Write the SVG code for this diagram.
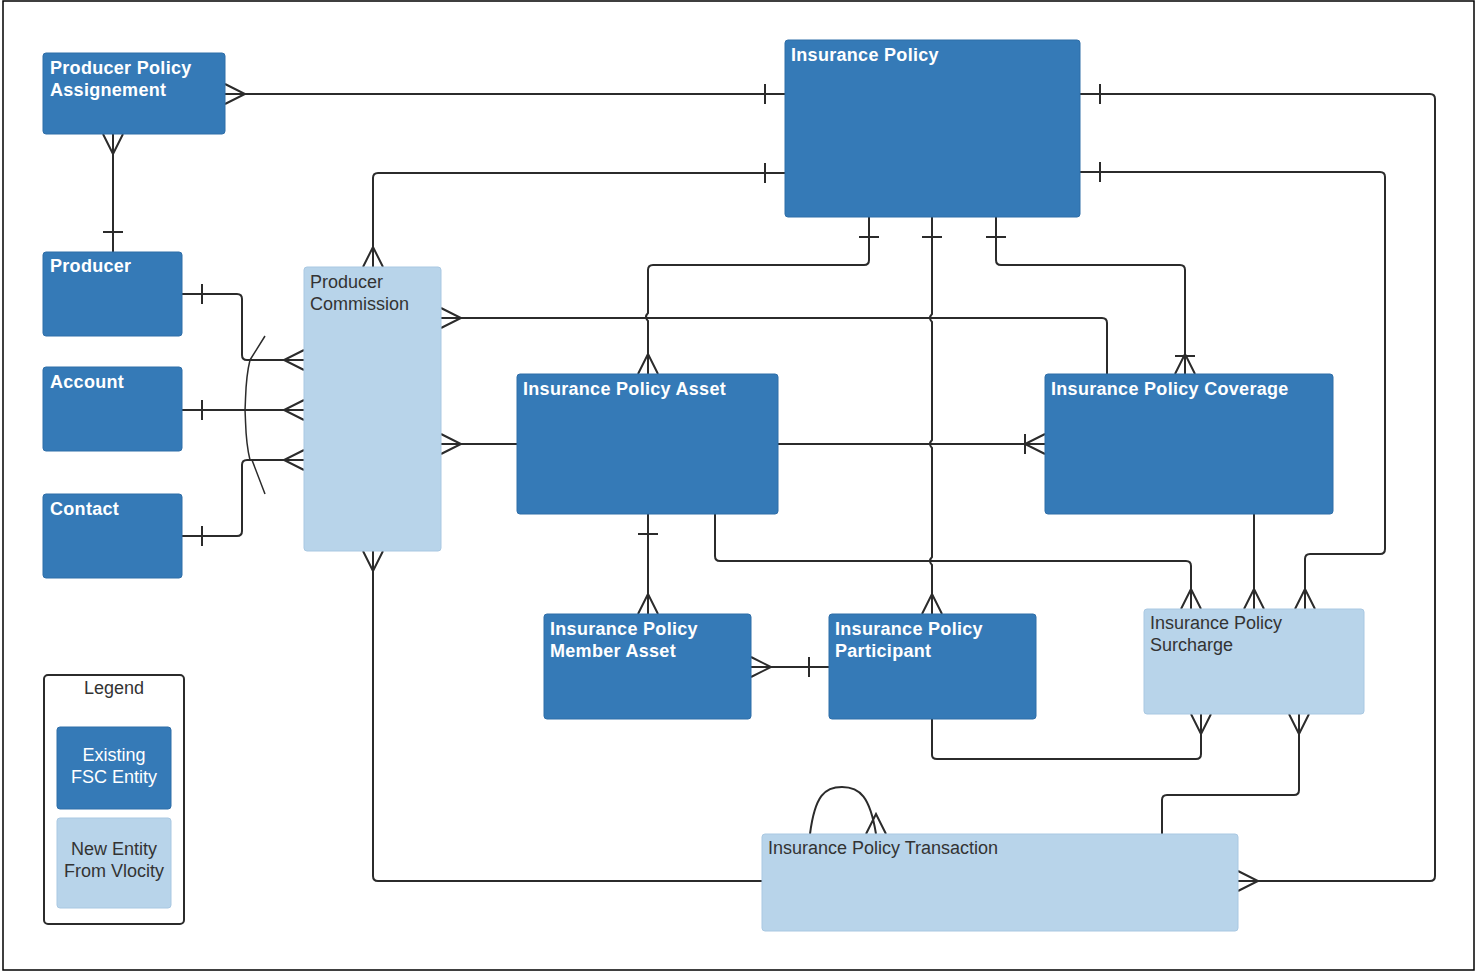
<svg xmlns="http://www.w3.org/2000/svg" width="1476" height="973" viewBox="0 0 1476 973">
<style>
.d{fill:#357ab7;stroke:#2f6ea8;stroke-width:1}
.l{fill:#b8d4ea;stroke:#a9c8e2;stroke-width:1}
.dt{font-family:"Liberation Sans",Arial,sans-serif;font-size:18px;font-weight:bold;fill:#fff;letter-spacing:0.3px}
.lt{font-family:"Liberation Sans",Arial,sans-serif;font-size:18px;fill:#333}
.c path{fill:none;stroke:#2b2b2b;stroke-width:2}
</style>
<rect x="3" y="1" width="1471" height="969" fill="#fff" stroke="#000" stroke-width="1.5"/>
<g class="c" id="connectors">
<path d="M225,94H785 M225,84L245,94L225,104 M765,84V104"/>
<path d="M113,134V252 M103,134L113,154L123,134 M103,232H123"/>
<path d="M785,173H378Q373,173 373,178V267 M765,163V183 M363,267L373,247L383,267"/>
<path d="M1080,94H1430Q1435,94 1435,99V876Q1435,881 1430,881H1238 M1100,84V104 M1238,871L1258,881L1238,891"/>
<path d="M1080,172H1380Q1385,172 1385,177V549Q1385,554 1380,554H1310Q1305,554 1305,559V609 M1100,162V182 M1295,609L1305,589L1315,609"/>
<path d="M869,217V260Q869,265 864,265H653Q648,265 648,270V313q-4,4 0,8V374 M859,237H879 M638,374L648,354L658,374"/>
<path d="M932,217V314q-4,4 0,8V440q-4,4 0,8V557q-4,4 0,8V614 M922,237H942 M922,614L932,594L942,614"/>
<path d="M996,217V260Q996,265 1001,265H1180Q1185,265 1185,270V374 M986,237H1006 M1175,374L1185,354L1195,374 M1175,356H1195"/>
<path d="M441,318H1102Q1107,318 1107,323V374 M441,308L461,318L441,328"/>
<path d="M441,444H517 M441,434L461,444L441,454"/>
<path d="M778,444H1045 M1045,434L1025,444L1045,454 M1025,434V454"/>
<path d="M648,514V614 M638,534H658 M638,614L648,594L658,614"/>
<path d="M715,514V556Q715,561 720,561H1186Q1191,561 1191,566V609 M1181,609L1191,589L1201,609"/>
<path d="M1254,514V609 M1244,609L1254,589L1264,609"/>
<path d="M751,667H829 M751,657L771,667L751,677 M809,657V677"/>
<path d="M932,719V755Q932,759 937,759H1196Q1201,759 1201,754V714 M1191,714L1201,734L1211,714"/>
<path d="M1299,714V790Q1299,795 1294,795H1167Q1162,795 1162,800V834 M1289,714L1299,734L1309,714"/>
<path d="M373,551V876Q373,881 378,881H762 M363,551L373,571L383,551"/>
<path d="M810,834C815,795 825,787 842,787C860,787 870,797 876,834 M866,834L876,814L886,834"/>
<path d="M182,294H237Q242,294 242,299V355Q242,360 247,360H304 M202,284V304 M304,350L284,360L304,370"/>
<path d="M182,410H304 M202,400V420 M304,400L284,410L304,420"/>
<path d="M182,536H237Q242,536 242,531V465Q242,460 247,460H304 M202,526V546 M304,450L284,460L304,470"/>
<path d="M265,336L250,360 M252,460L265,494" style="stroke-width:1.5"/>
<path d="M250,360C245,380 246,395 245,410C246,425 245,440 250,460" style="stroke-width:1.5"/>
</g>
<g id="ppa"><rect class="d" x="43" y="53" width="182" height="81" rx="3"/><text class="dt" x="50" y="74">Producer Policy</text><text class="dt" x="50" y="96">Assignement</text></g>
<g id="ip"><rect class="d" x="785" y="40" width="295" height="177" rx="3"/><text class="dt" x="791" y="61">Insurance Policy</text></g>
<g id="producer"><rect class="d" x="43" y="252" width="139" height="84" rx="3"/><text class="dt" x="50" y="272">Producer</text></g>
<g id="account"><rect class="d" x="43" y="367" width="139" height="84" rx="3"/><text class="dt" x="50" y="388">Account</text></g>
<g id="contact"><rect class="d" x="43" y="494" width="139" height="84" rx="3"/><text class="dt" x="50" y="515">Contact</text></g>
<g id="pc"><rect class="l" x="304" y="267" width="137" height="284" rx="3"/><text class="lt" x="310" y="288">Producer</text><text class="lt" x="310" y="310">Commission</text></g>
<g id="ipa"><rect class="d" x="517" y="374" width="261" height="140" rx="3"/><text class="dt" x="523" y="395">Insurance Policy Asset</text></g>
<g id="ipc"><rect class="d" x="1045" y="374" width="288" height="140" rx="3"/><text class="dt" x="1051" y="395">Insurance Policy Coverage</text></g>
<g id="ipma"><rect class="d" x="544" y="614" width="207" height="105" rx="3"/><text class="dt" x="550" y="635">Insurance Policy</text><text class="dt" x="550" y="657">Member Asset</text></g>
<g id="ipp"><rect class="d" x="829" y="614" width="207" height="105" rx="3"/><text class="dt" x="835" y="635">Insurance Policy</text><text class="dt" x="835" y="657">Participant</text></g>
<g id="ips"><rect class="l" x="1144" y="609" width="220" height="105" rx="3"/><text class="lt" x="1150" y="629">Insurance Policy</text><text class="lt" x="1150" y="651">Surcharge</text></g>
<g id="ipt"><rect class="l" x="762" y="834" width="476" height="97" rx="3"/><text class="lt" x="768" y="854">Insurance Policy Transaction</text></g>
<g id="legend"><rect x="44" y="675" width="140" height="249" rx="4" fill="#fff" stroke="#2b2b2b" stroke-width="2"/><text class="lt" x="114" y="694" text-anchor="middle">Legend</text>
<rect class="d" x="57" y="727" width="114" height="82" rx="3"/><text x="114" y="761" text-anchor="middle" style="font-family:'Liberation Sans',Arial,sans-serif;font-size:18px;fill:#fff">Existing</text><text x="114" y="783" text-anchor="middle" style="font-family:'Liberation Sans',Arial,sans-serif;font-size:18px;fill:#fff">FSC Entity</text>
<rect class="l" x="57" y="818" width="114" height="90" rx="3"/><text class="lt" x="114" y="855" text-anchor="middle">New Entity</text><text class="lt" x="114" y="877" text-anchor="middle">From Vlocity</text></g>
</svg>
